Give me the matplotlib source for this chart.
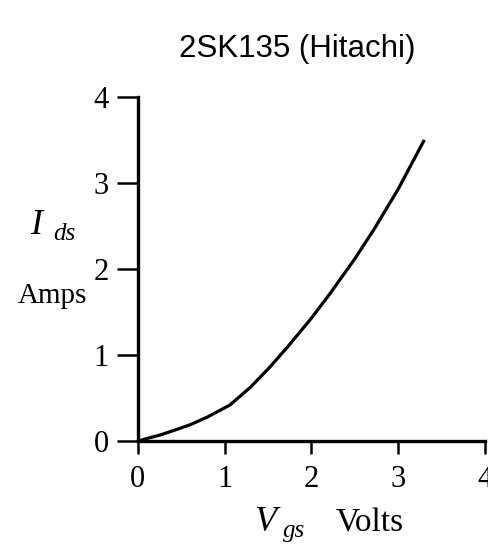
import matplotlib.pyplot as plt

# curve
vgs = [0.0, 0.1, 0.25, 0.4, 0.6, 0.8, 1.06, 1.3, 1.52, 1.72, 2.0, 2.21, 2.5, 2.72, 3.0, 3.3]
ids = [0.0, 0.03, 0.07, 0.12, 0.19, 0.28, 0.42, 0.63, 0.86, 1.09, 1.43, 1.71, 2.12, 2.46, 2.93, 3.5]

x_ticks = [0, 1, 2, 3, 4]
y_ticks = [0, 1, 2, 3, 4]

serif = 'Liberation Serif'

fig = plt.figure(figsize=(4.89, 5.44), dpi=100)
ax = fig.add_axes([0.282, 0.189, 0.710, 0.633])

ax.plot(vgs, ids, color='black', lw=2.3, solid_capstyle='butt')

ax.set_xlim(0, 4)
ax.set_ylim(0, 4)
ax.set_xticks(x_ticks)
ax.set_yticks(y_ticks)

ax.spines['top'].set_visible(False)
ax.spines['right'].set_visible(False)
for s in ['left', 'bottom']:
    ax.spines[s].set_linewidth(2.4)

ax.tick_params(axis='y', direction='out', length=15, width=1.8, pad=6)
ax.tick_params(axis='x', direction='out', length=9.5, width=1.8, pad=8)
for lab in ax.get_xticklabels() + ax.get_yticklabels():
    lab.set_fontfamily(serif)
    lab.set_fontsize(22)

fig.text(297 / 489, 1 - 57 / 544, '2SK135 (Hitachi)', fontsize=22.5,
         family='Liberation Sans', ha='center', va='baseline')

# y label
fig.text(36 / 489, 1 - 234 / 544, 'I', fontsize=26, family=serif,
         style='italic', ha='center', va='baseline')
fig.text(64 / 489, 1 - 240 / 544, 'ds', fontsize=18, family=serif,
         style='italic', ha='center', va='baseline')
fig.text(52 / 489, 1 - 303 / 544, 'Amps', fontsize=21, family=serif,
         ha='center', va='baseline')

# x label
fig.text(265 / 489, 1 - 531 / 544, 'V', fontsize=26, family=serif,
         style='italic', ha='center', va='baseline')
fig.text(294 / 489, 1 - 537 / 544, 'gs', fontsize=18, family=serif,
         style='italic', ha='center', va='baseline')
fig.text(370 / 489, 1 - 531 / 544, 'Volts', fontsize=24, family=serif,
         ha='center', va='baseline')

plt.savefig('out.png', dpi=100)
